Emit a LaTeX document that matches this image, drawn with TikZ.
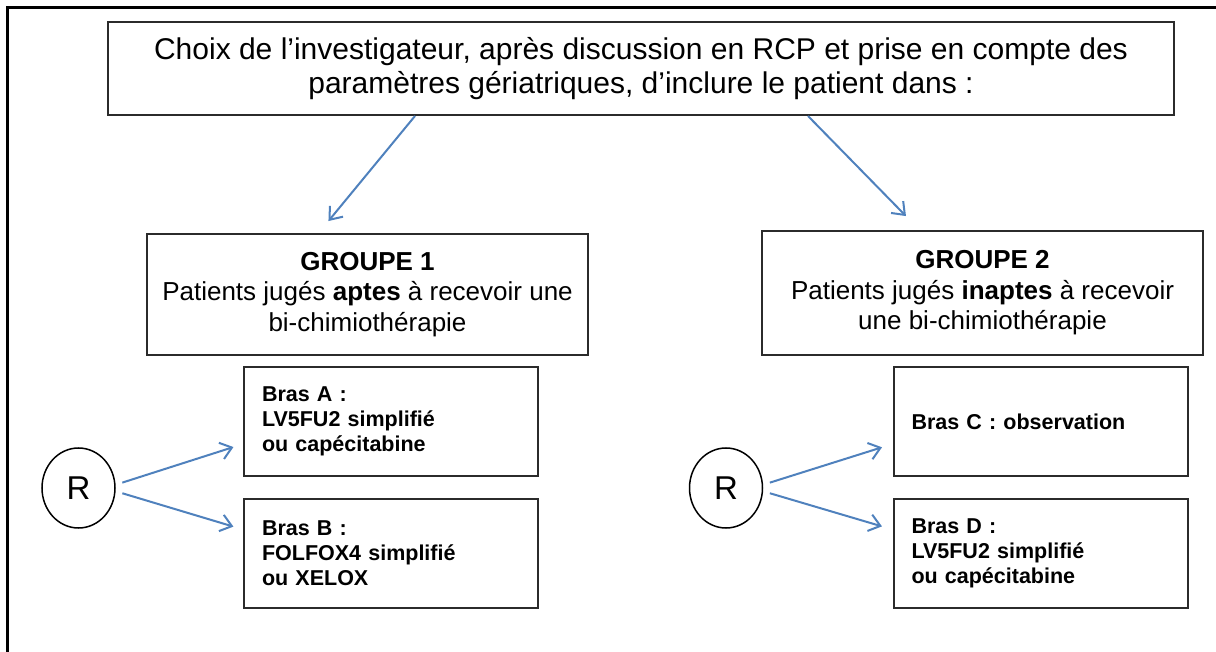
\documentclass[tikz,border=0pt]{standalone}
\usepackage{fontspec}
\setmainfont{Liberation Sans}
\usepackage{xcolor}
\definecolor{arrowblue}{HTML}{4F81BD}
\definecolor{boxline}{HTML}{2B2B2B}
\usetikzlibrary{arrows.meta, shapes.geometric, positioning, calc}

\begin{document}
\begin{tikzpicture}[x=1pt, y=-1pt, >={Straight Barb[length=11pt,width=17pt]},
  box/.style={draw=boxline, line width=2pt, rectangle, inner sep=0pt},
  grpbox/.style={box, minimum width=441pt, align=center,
                 font=\fontsize{26}{30.5}\selectfont},
  brasbox/.style={box, minimum width=294pt, minimum height=109pt,
                  align=left, text width=258pt,
                  font=\bfseries\fontsize{21.5}{25}\selectfont},
  randnode/.style={draw=black, line width=1.5pt, ellipse, minimum width=73pt,
                   minimum height=80pt, inner sep=0pt,
                   font=\fontsize{33}{38}\selectfont},
  link/.style={->, arrowblue, line width=2pt}]

  \useasboundingbox (0,0) rectangle (1216,652);
  \draw[line width=3pt] (7,652) -- (7,8) -- (1216,8);

  \node[box, minimum width=1066pt, minimum height=93pt, align=center,
        font=\fontsize{30}{34.5}\selectfont]
        (choix) at (641,68.5) {Choix de l’investigateur, après discussion en RCP et prise en compte des\\
                               paramètres gériatriques, d’inclure le patient dans :};

  \node[grpbox, minimum height=121pt] (grp1) at (367.5,294.5)
        {\textbf{GROUPE 1}\\Patients jugés \textbf{aptes} à recevoir une\\bi-chimiothérapie};
  \node[grpbox, minimum height=124pt] (grp2) at (982.5,293)
        {\textbf{GROUPE 2}\\Patients jugés \textbf{inaptes} à recevoir\\une bi-chimiothérapie};

  % groupe 1
  \node[brasbox] (brasA) at (391,421.5) {Bras A :\\LV5FU2 simplifié\\ou capécitabine};
  \node[brasbox, below=21pt of brasA] (brasB) {Bras B :\\FOLFOX4 simplifié\\ou XELOX};
  \node[randnode] (r1) at (78.5,488) {R};

  % groupe 2
  \node[brasbox] (brasC) at (1040.5,421.5) {Bras C : observation};
  \node[brasbox, below=21pt of brasC] (brasD) {Bras D :\\LV5FU2 simplifié\\ou capécitabine};
  \node[randnode] (r2) at (726,488) {R};

  \draw[link, shorten >=15.5pt] ([xshift=-226pt]choix.south) -- ([xshift=-48.9pt]grp1.north);
  \draw[link, shorten >=19.5pt] ([xshift=167pt]choix.south) -- ([xshift=-62.9pt]grp2.north);

  \draw[link, shorten <=7pt, shorten >=10pt] (r1.5) -- ([yshift=-22.5pt]brasA.west);
  \draw[link, shorten <=7pt, shorten >=10pt] (r1.-5) -- ([yshift=24pt]brasB.west);
  \draw[link, shorten <=7pt, shorten >=11pt] (r2.5) -- ([yshift=-22.5pt]brasC.west);
  \draw[link, shorten <=7pt, shorten >=11pt] (r2.-5) -- ([yshift=24pt]brasD.west);
\end{tikzpicture}
\end{document}
